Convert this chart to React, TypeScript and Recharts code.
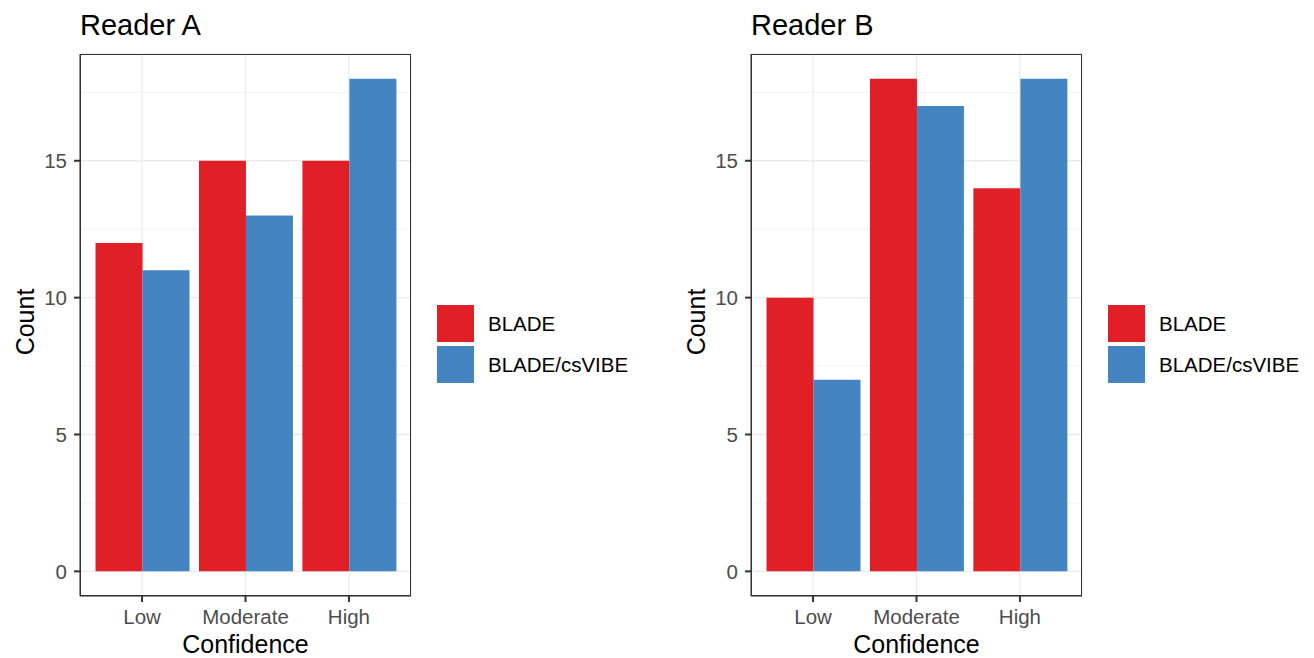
import React from "react";
import { BarChart, Bar, XAxis, YAxis, CartesianGrid } from "recharts";

const categories = ["Low", "Moderate", "High"];
const readerABlade = [12, 15, 15];
const readerACsvibe = [11, 13, 18];
const readerBBlade = [10, 18, 14];
const readerBCsvibe = [7, 17, 18];
const yTicks = [0, 5, 10, 15];
const yMinorTicks = [2.5, 7.5, 12.5, 17.5];
const seriesNames = ["BLADE", "BLADE/csVIBE"];

const RED = "#E01F26";
const BLUE = "#4485C1";
const FONT = "'Liberation Sans', Arial, Helvetica, sans-serif";

const PLOT_LEFT = 80;
const PLOT_TOP = 54;
const PLOT_W = 331;
const PLOT_H = 542;
const CHART_H = 658;
const TICK_SIZE = 6;
const TICK_MARGIN = 7;

const buildRows = (blade: number[], csvibe: number[]) =>
  categories.map((c, i) => ({ name: c, blade: blade[i], csvibe: csvibe[i] }));

interface PanelProps {
  left: number;
  title: string;
  blade: number[];
  csvibe: number[];
}

const Panel = ({ left, title, blade, csvibe }: PanelProps) => {
  const rows = buildRows(blade, csvibe);
  const pad = (PLOT_W / 3.2) * 0.1;
  const tickStyle = { fill: "#4D4D4D", fontSize: 20.5, fontFamily: FONT };
  const axisStroke = { stroke: "#333333", strokeWidth: 1 };
  const tickStroke = { stroke: "#333333", strokeWidth: 2 };
  return (
    <div style={{ position: "absolute", left, top: 0, width: 640, height: CHART_H }}>
      <BarChart
        width={PLOT_LEFT + PLOT_W + 2}
        height={CHART_H}
        data={rows}
        margin={{ top: PLOT_TOP, right: 2, bottom: 0, left: 0 }}
        barCategoryGap="5%"
        barGap={0}
      >
        <CartesianGrid
          vertical={false}
          horizontalValues={yMinorTicks}
          stroke="#F2F2F2"
          strokeWidth={1}
        />
        <CartesianGrid stroke="#EBEBEB" strokeWidth={1.3} />
        <XAxis
          dataKey="name"
          padding={{ left: pad, right: pad }}
          height={CHART_H - PLOT_TOP - PLOT_H}
          stroke="#333333"
          axisLine={axisStroke}
          tickLine={tickStroke}
          tickSize={TICK_SIZE}
          tickMargin={TICK_MARGIN}
          tick={tickStyle}
          interval={0}
        />
        <YAxis
          width={PLOT_LEFT}
          domain={[-0.9, 18.9]}
          ticks={yTicks}
          allowDataOverflow
          stroke="#333333"
          axisLine={axisStroke}
          tickLine={tickStroke}
          tickSize={TICK_SIZE}
          tickMargin={TICK_MARGIN}
          tick={tickStyle}
        />
        <Bar dataKey="blade" fill={RED} isAnimationActive={false} />
        <Bar dataKey="csvibe" fill={BLUE} isAnimationActive={false} />
      </BarChart>
      {/* panel border */}
      <div
        style={{
          position: "absolute",
          left: PLOT_LEFT,
          top: PLOT_TOP,
          width: PLOT_W,
          height: PLOT_H,
          border: "1px solid #333333",
          boxSizing: "border-box",
          pointerEvents: "none",
        }}
      />
      <div
        style={{
          position: "absolute",
          left: PLOT_LEFT,
          top: 8,
          fontSize: 29,
          fontFamily: FONT,
          color: "#000",
          lineHeight: "34px",
          whiteSpace: "nowrap",
        }}
      >
        {title}
      </div>
      <div
        style={{
          position: "absolute",
          left: PLOT_LEFT + PLOT_W / 2,
          top: 644,
          transform: "translate(-50%, -50%)",
          fontSize: 25,
          fontFamily: FONT,
          color: "#000",
          whiteSpace: "nowrap",
        }}
      >
        Confidence
      </div>
      <div
        style={{
          position: "absolute",
          left: 25,
          top: 322,
          transform: "translate(-50%, -50%) rotate(-90deg)",
          fontSize: 25,
          fontFamily: FONT,
          color: "#000",
          whiteSpace: "nowrap",
        }}
      >
        Count
      </div>
      {/* legend */}
      {seriesNames.map((s, i) => (
        <div
          key={s}
          style={{
            position: "absolute",
            left: 437,
            top: 305 + i * 41,
            height: 37,
            display: "flex",
            alignItems: "center",
            fontFamily: FONT,
            fontSize: 20.5,
            color: "#000",
            whiteSpace: "nowrap",
          }}
        >
          <div style={{ width: 37, height: 37, background: i === 0 ? RED : BLUE }} />
          <span style={{ marginLeft: 14 }}>{s}</span>
        </div>
      ))}
    </div>
  );
};

export default function App() {
  return (
    <div
      style={{
        position: "absolute",
        left: 0,
        top: 0,
        width: 1314,
        height: 658,
        background: "#fff",
        overflow: "hidden",
      }}
    >
      <Panel left={0} title="Reader A" blade={readerABlade} csvibe={readerACsvibe} />
      <Panel left={671} title="Reader B" blade={readerBBlade} csvibe={readerBCsvibe} />
    </div>
  );
}
